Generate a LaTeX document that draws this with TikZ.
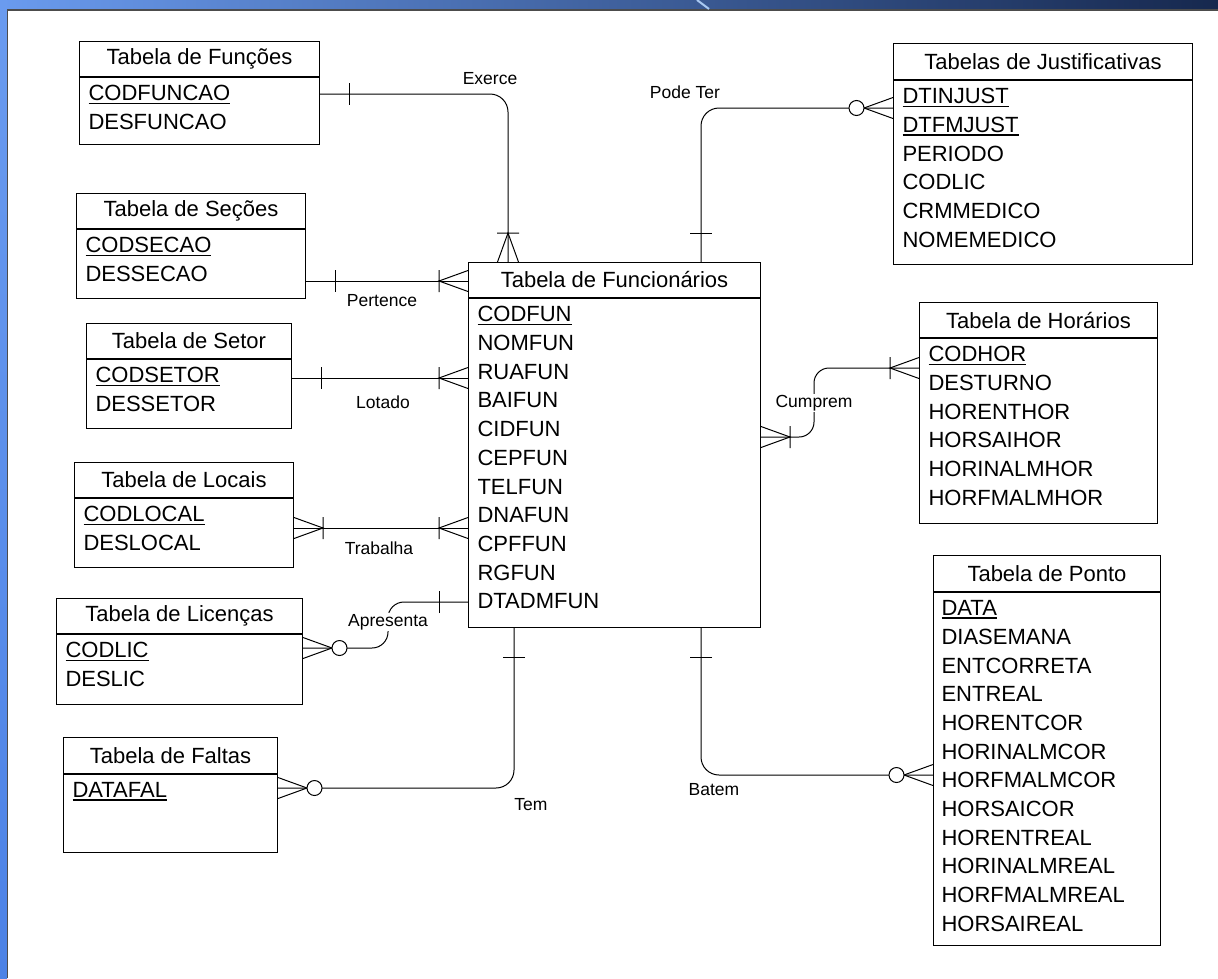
\documentclass[tikz,border=0pt]{standalone}
\usepackage{fontspec}
\setmainfont{Liberation Sans}
\usepackage{tikz}
\usetikzlibrary{decorations.markings}

\definecolor{faixaclara}{HTML}{6A9BEF}
\definecolor{faixamedia}{HTML}{4A78CC}
\definecolor{faixaescura}{HTML}{16284E}
\definecolor{faixalateral}{HTML}{4C82E6}
\definecolor{faixabrilho}{HTML}{A9C9F2}

% chave primaria sublinhada
\newcommand{\chave}[1]{\leavevmode\setbox0\hbox{#1}\rlap{\rule[-3.2pt]{\wd0}{1.5pt}}\box0}

\begin{document}
\begin{tikzpicture}[x=1pt,y=-1pt,line width=1pt,
  titulo/.style={draw,anchor=north west,inner sep=0pt,minimum height=35pt,font=\fontsize{22}{26}\selectfont},
  corpo/.style={draw,anchor=north west,inner sep=0pt},
  campos/.style={anchor=north west,inner sep=0pt,align=left,font=\fontsize{22}{28.7}\selectfont},
  rotulo/.style={font=\fontsize{17.5}{21}\selectfont,inner sep=1.5pt},
  rel/.style={draw,line width=1pt},
  um ini/.style={postaction={decorate,decoration={markings,mark=at position 0 with {\draw[sharp corners] (29,-11) -- (29,11);}}}},
  muitos ini/.style={postaction={decorate,decoration={markings,mark=at position 0 with {\draw[sharp corners] (0,-10.5) -- (29,0) -- (0,10.5) (29,-11) -- (29,11);}}}},
  muitos fim/.style={postaction={decorate,decoration={markings,mark=at position 1 with {\draw[sharp corners] (0,-10.5) -- (-29,0) -- (0,10.5) (-29,-11) -- (-29,11);}}}},
  zero fim/.style={postaction={decorate,decoration={markings,mark=at position 1 with {\draw[sharp corners] (0,-10.5) -- (-29,0) -- (0,10.5); \draw[fill=white] (-36.5,0) circle (7.5pt);}}}}]
\useasboundingbox (0,0) rectangle (1218,978);
% fundo do slide
\fill[white] (0,0) rectangle (1218,978);
\shade[left color=faixaclara,middle color=faixamedia,right color=faixaescura] (0,0) rectangle (1218,9.5);
\shade[top color=faixaclara,bottom color=faixalateral] (0,0) rectangle (7,978);
\draw[black!70,line width=1.5pt] (7.5,978) -- (7.5,10) -- (1218,10);
\draw[faixabrilho,line width=2pt] (697,0) -- (709,9);
% tabelas da esquerda
\node[titulo,minimum width=240pt] (funcoes-t) at (79,41) {Tabela de Funções};
\node[corpo,minimum width=240pt,minimum height=67pt] (funcoes) at (funcoes-t.south west) {};
\node[campos] (funcoes-c) at ([xshift=9pt,yshift=-8pt]funcoes.north west) {\chave{CODFUNCAO}\\DESFUNCAO};
\node[titulo,minimum width=229pt] (secoes-t) at (76,193) {Tabela de Seções};
\node[corpo,minimum width=229pt,minimum height=69pt] (secoes) at (secoes-t.south west) {};
\node[campos] (secoes-c) at ([xshift=9pt,yshift=-8pt]secoes.north west) {\chave{CODSECAO}\\DESSECAO};
\node[titulo,minimum width=205pt] (setor-t) at (86,323) {Tabela de Setor};
\node[corpo,minimum width=205pt,minimum height=69pt] (setor) at (setor-t.south west) {};
\node[campos] (setor-c) at ([xshift=9pt,yshift=-8pt]setor.north west) {\chave{CODSETOR}\\DESSETOR};
\node[titulo,minimum width=219pt] (locais-t) at (74,462) {Tabela de Locais};
\node[corpo,minimum width=219pt,minimum height=69pt] (locais) at (locais-t.south west) {};
\node[campos] (locais-c) at ([xshift=9pt,yshift=-8pt]locais.north west) {\chave{CODLOCAL}\\DESLOCAL};
\node[titulo,minimum width=246pt] (licencas-t) at (56,598) {Tabela de Licenças};
\node[corpo,minimum width=246pt,minimum height=70pt] (licencas) at (licencas-t.south west) {};
\node[campos] (licencas-c) at ([xshift=9pt,yshift=-8pt]licencas.north west) {\chave{CODLIC}\\DESLIC};
\node[titulo,minimum width=214pt,minimum height=36pt] (faltas-t) at (63,737) {Tabela de Faltas};
\node[corpo,minimum width=214pt,minimum height=78pt] (faltas) at (faltas-t.south west) {};
\node[campos] (faltas-c) at ([xshift=9pt,yshift=-8pt]faltas.north west) {\chave{DATAFAL}};
% tabela central
\node[titulo,minimum width=292pt] (fun-t) at (468,262) {Tabela de Funcionários};
\node[corpo,minimum width=292pt,minimum height=329pt] (fun) at (fun-t.south west) {};
\node[campos] (fun-c) at ([xshift=9pt,yshift=-8pt]fun.north west) {\chave{CODFUN}\\NOMFUN\\RUAFUN\\BAIFUN\\CIDFUN\\CEPFUN\\TELFUN\\DNAFUN\\CPFFUN\\RGFUN\\DTADMFUN};
% tabelas da direita
\node[titulo,minimum width=299pt,minimum height=36pt] (justif-t) at (893,43) {Tabelas de Justificativas};
\node[corpo,minimum width=299pt,minimum height=184pt] (justif) at (justif-t.south west) {};
\node[campos] (justif-c) at ([xshift=9pt,yshift=-8pt]justif.north west) {\chave{DTINJUST}\\\chave{DTFMJUST}\\PERIODO\\CODLIC\\CRMMEDICO\\NOMEMEDICO};
\node[titulo,minimum width=238pt] (horarios-t) at (919,302) {Tabela de Horários};
\node[corpo,minimum width=238pt,minimum height=185pt] (horarios) at (horarios-t.south west) {};
\node[campos] (horarios-c) at ([xshift=9pt,yshift=-8pt]horarios.north west) {\chave{CODHOR}\\DESTURNO\\HORENTHOR\\HORSAIHOR\\HORINALMHOR\\HORFMALMHOR};
\node[titulo,minimum width=227pt,minimum height=36pt] (ponto-t) at (933,555) {Tabela de Ponto};
\node[corpo,minimum width=227pt,minimum height=353pt] (ponto) at (ponto-t.south west) {};
\node[campos] (ponto-c) at ([xshift=8pt,yshift=-8pt]ponto.north west) {\chave{DATA}\\DIASEMANA\\ENTCORRETA\\ENTREAL\\HORENTCOR\\HORINALMCOR\\HORFMALMCOR\\HORSAICOR\\HORENTREAL\\HORINALMREAL\\HORFMALMREAL\\HORSAIREAL};
% relacionamentos
\path[rel,um ini,muitos fim,rounded corners=18pt] (funcoes.east |- 0,94) -| (fun-t.north -| 508,0);
\path[rel,um ini,muitos fim] (secoes.east |- 0,281) -- (fun-t.west |- 0,281);
\path[rel,um ini,muitos fim] (setor.east |- 0,378) -- (fun.west |- 0,378);
\path[rel,muitos ini,muitos fim] (locais.east |- 0,528) -- (fun.west |- 0,528);
\path[rel,um ini,zero fim,rounded corners=16pt] (fun.west |- 0,602) -- (388,602) -- (388,648) -- (licencas.east |- 0,648);
\path[rel,um ini,zero fim,rounded corners=18pt] (fun.south -| 514,0) |- (faltas.east |- 0,788);
\path[rel,um ini,zero fim,rounded corners=18pt] (fun.south -| 701,0) |- (ponto.west |- 0,775);
\path[rel,um ini,zero fim,rounded corners=18pt] (fun-t.north -| 701,0) |- (justif.west |- 0,108);
\path[rel,muitos ini,muitos fim,rounded corners=15pt] (fun.east |- 0,437) -- (814,437) -- (814,368) -- (horarios.west |- 0,368);
% nomes dos relacionamentos
\node[rotulo] (r-exerce) at (490,79) {Exerce};
\node[rotulo] (r-podeter) at (685,92) {Pode Ter};
\node[rotulo] (r-pertence) at (382,301) {Pertence};
\node[rotulo] (r-lotado) at (383,402) {Lotado};
\node[rotulo] (r-trabalha) at (379,548) {Trabalha};
\node[rotulo,fill=white] (r-apresenta) at (388,622) {Apresenta};
\node[rotulo,fill=white] (r-cumprem) at (814,403) {Cumprem};
\node[rotulo] (r-tem) at (531,805) {Tem};
\node[rotulo] (r-batem) at (714,790) {Batem};
\end{tikzpicture}
\end{document}
